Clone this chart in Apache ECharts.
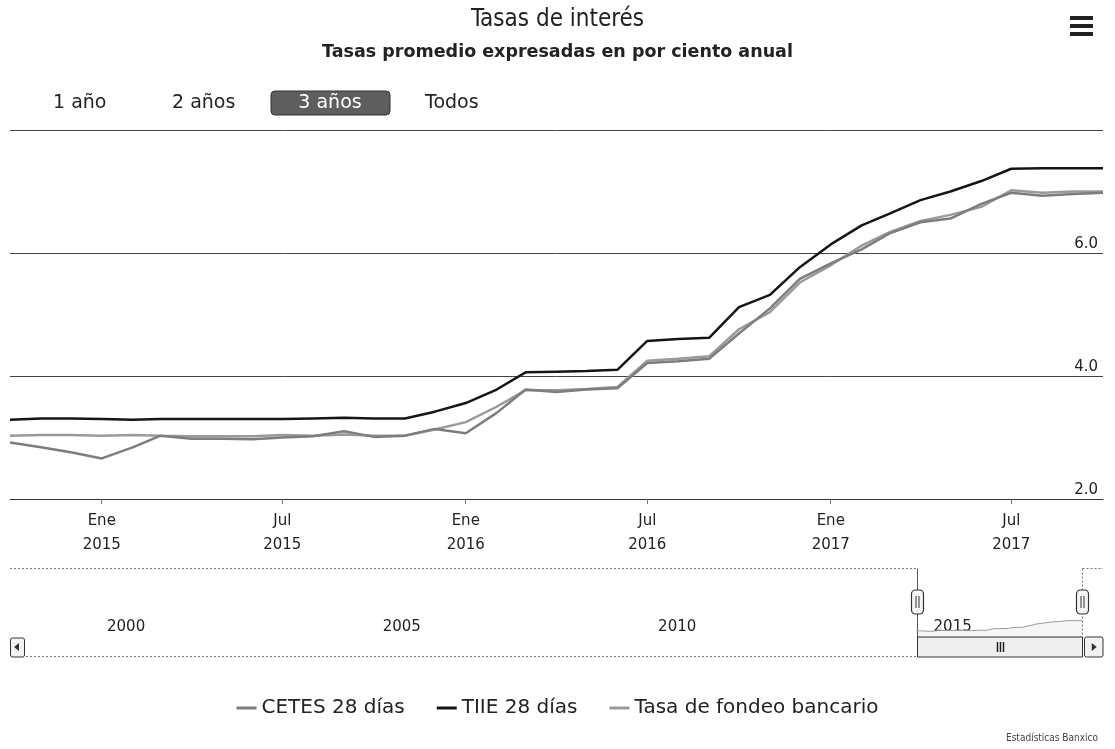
<!DOCTYPE html>
<html>
<head>
<meta charset="utf-8">
<title>Tasas de interés</title>
<script src="https://cdn.jsdelivr.net/npm/echarts@6/dist/echarts.min.js"></script>
<style>
  html, body { margin: 0; padding: 0; background: #fff; }
  #chart { width: 1115px; height: 749px; }
</style>
</head>
<body>
<div id="chart"></div>
<script>
  // promedios mensuales, oct 2014 - oct 2017
  var meses = ['2014-10-01', '2014-11-01', '2014-12-01',
    '2015-01-01', '2015-02-01', '2015-03-01', '2015-04-01', '2015-05-01', '2015-06-01',
    '2015-07-01', '2015-08-01', '2015-09-01', '2015-10-01', '2015-11-01', '2015-12-01',
    '2016-01-01', '2016-02-01', '2016-03-01', '2016-04-01', '2016-05-01', '2016-06-01',
    '2016-07-01', '2016-08-01', '2016-09-01', '2016-10-01', '2016-11-01', '2016-12-01',
    '2017-01-01', '2017-02-01', '2017-03-01', '2017-04-01', '2017-05-01', '2017-06-01',
    '2017-07-01', '2017-08-01', '2017-09-01', '2017-10-01'];
  var cetes28 = [2.92, 2.84, 2.76, 2.66, 2.84, 3.03, 2.98, 2.98, 2.97, 3.00, 3.02, 3.10, 3.01,
    3.03, 3.14, 3.07, 3.40, 3.78, 3.74, 3.78, 3.80, 4.21, 4.24, 4.28, 4.69, 5.10, 5.58, 5.83,
    6.06, 6.32, 6.50, 6.56, 6.80, 6.98, 6.93, 6.96, 6.98];
  var tiie28 = [3.29, 3.31, 3.31, 3.30, 3.29, 3.30, 3.30, 3.30, 3.30, 3.30, 3.31, 3.32, 3.31,
    3.31, 3.42, 3.56, 3.78, 4.06, 4.07, 4.08, 4.10, 4.57, 4.60, 4.62, 5.12, 5.32, 5.77, 6.14,
    6.45, 6.64, 6.86, 7.00, 7.17, 7.37, 7.38, 7.38, 7.38];
  var fondeo = [3.03, 3.04, 3.04, 3.03, 3.04, 3.03, 3.02, 3.02, 3.02, 3.04, 3.03, 3.05, 3.03,
    3.03, 3.13, 3.25, 3.50, 3.77, 3.77, 3.79, 3.82, 4.25, 4.28, 4.32, 4.76, 5.04, 5.52, 5.80,
    6.12, 6.34, 6.52, 6.62, 6.75, 7.02, 6.98, 7.00, 7.00];

  var nombres = ['CETES 28 días', 'TIIE 28 días', 'Tasa de fondeo bancario'];
  var ticksFecha = ['2015-01-01', '2015-07-01', '2016-01-01', '2016-07-01', '2017-01-01', '2017-07-01'];
  var ticksNavegador = ['2000-01-01', '2005-01-01', '2010-01-01', '2015-01-01'];
  var nombreMes = {0: 'Ene', 6: 'Jul'};
  var botones = ['1 año', '2 años', '3 años', 'Todos'];

  var FONT = '"DejaVu Sans", sans-serif';
  var FONT_C = '"DejaVu Sans Condensed", "DejaVu Sans", sans-serif';

  function ts(s) {
    var p = s.split('-');
    return Date.UTC(+p[0], +p[1] - 1, +p[2]);
  }
  function pares(vals) {
    return meses.map(function (m, i) { return [ts(m), vals[i]]; });
  }

  var chart = echarts.init(document.getElementById('chart'));

  var option = {
    animation: false,
    color: ['#7d7d7d', '#151515', '#9a9a9a'],
    title: [{
      text: 'Tasas de interés',
      left: 'center', top: 3,
      textStyle: {fontFamily: FONT_C, fontSize: 24, fontWeight: 'normal', color: '#222'}
    }, {
      text: 'Tasas promedio expresadas en por ciento anual',
      left: 'center', top: 38,
      textStyle: {fontFamily: FONT, fontSize: 17.5, fontWeight: 'bold', color: '#222'}
    }],
    legend: {
      data: nombres,
      left: 'center', top: 693,
      icon: 'rect', itemWidth: 20, itemHeight: 3, itemGap: 32,
      textStyle: {fontFamily: FONT, fontSize: 20, color: '#222'}
    },
    grid: [
      {left: 10, right: 12, top: 130, height: 369},
      {left: 28, right: 33, top: 568, height: 70}
    ],
    xAxis: [{
      type: 'value',
      gridIndex: 0,
      min: ts('2014-10-01'), max: ts('2017-10-01'),
      axisLine: {lineStyle: {color: '#333', width: 1}},
      axisTick: {show: true, length: 5, lineStyle: {color: '#777'},
        customValues: ticksFecha.map(ts)},
      axisLabel: {
        customValues: ticksFecha.map(ts),
        fontFamily: FONT, fontSize: 15, color: '#222', lineHeight: 24, margin: 10,
        formatter: function (v) {
          var d = new Date(v);
          return nombreMes[d.getUTCMonth()] + '\n' + d.getUTCFullYear();
        }
      },
      splitLine: {show: false}
    }, {
      type: 'value',
      gridIndex: 1,
      min: ts('1998-08-15'), max: ts('2017-10-01'),
      axisLine: {show: false},
      axisTick: {show: false},
      splitLine: {show: false},
      axisLabel: {
        customValues: ticksNavegador.map(ts),
        inside: true, margin: 3, align: 'left', padding: [0, 0, 0, 3],
        fontFamily: FONT, fontSize: 15, color: '#222',
        formatter: function (v) { return String(new Date(v).getUTCFullYear()); }
      }
    }],
    yAxis: [{
      type: 'value',
      gridIndex: 0,
      position: 'right',
      min: 2, max: 8, interval: 2,
      axisLine: {show: false},
      axisTick: {show: false},
      splitLine: {lineStyle: {color: '#444', width: 1}},
      axisLabel: {
        inside: true, margin: 5, verticalAlign: 'bottom', padding: [0, 0, 1, 0],
        showMaxLabel: false,
        fontFamily: FONT, fontSize: 15, color: '#222',
        formatter: function (v) { return v.toFixed(1); }
      }
    }, {
      type: 'value',
      gridIndex: 1,
      min: 0, max: 28,
      show: false
    }],
    series: [{
      name: nombres[0], type: 'line', data: pares(cetes28),
      showSymbol: false, lineStyle: {width: 2.5}, z: 3
    }, {
      name: nombres[1], type: 'line', data: pares(tiie28),
      showSymbol: false, lineStyle: {width: 2.5}, z: 4
    }, {
      name: nombres[2], type: 'line', data: pares(fondeo),
      showSymbol: false, lineStyle: {width: 2.5}, z: 2
    }, {
      // serie del navegador
      name: 'nav', type: 'line', data: pares(cetes28),
      xAxisIndex: 1, yAxisIndex: 1,
      showSymbol: false, silent: true,
      lineStyle: {width: 1, color: '#999'},
      areaStyle: {color: 'rgba(0,0,0,0.05)'}
    }]
  };

  chart.setOption(option);

  // botones de rango, menú, navegador y créditos
  var g = [];
  var xBoton = [53, 172, 271, 425];
  botones.forEach(function (b, i) {
    if (i === 2) {
      g.push({type: 'rect', shape: {x: 271, y: 91, width: 119, height: 24, r: 4},
        style: {fill: '#5e5e5e', stroke: '#333'}});
      g.push({type: 'text', x: 330, y: 103,
        style: {text: b, font: '19px ' + FONT, fill: '#fff', align: 'center', verticalAlign: 'middle'}});
    } else {
      g.push({type: 'text', x: xBoton[i], y: 103,
        style: {text: b, font: '19px ' + FONT, fill: '#222', verticalAlign: 'middle'}});
    }
  });
  [16, 24, 32].forEach(function (y) {
    g.push({type: 'rect', shape: {x: 1070, y: y, width: 23, height: 4}, style: {fill: '#222'}});
  });

  var xL = Math.round(chart.convertToPixel({xAxisIndex: 1}, ts(meses[0]))) + 0.5;
  var xR = Math.round(chart.convertToPixel({xAxisIndex: 1}, ts(meses[meses.length - 1]))) + 0.5;
  var navTop = 568.5, navBot = 637, sbBot = 657;
  var linea = {stroke: '#777', lineWidth: 1, lineDash: [2, 2]};

  g.push({type: 'line', shape: {x1: 10, y1: navTop, x2: xL, y2: navTop}, style: linea});
  g.push({type: 'line', shape: {x1: xR, y1: navTop, x2: 1103, y2: navTop}, style: linea});
  g.push({type: 'line', shape: {x1: 26, y1: sbBot - 0.5, x2: xL, y2: sbBot - 0.5}, style: linea});
  g.push({type: 'line', shape: {x1: xL, y1: navTop, x2: xL, y2: navBot}, style: {stroke: '#555', lineWidth: 1}});
  g.push({type: 'line', shape: {x1: xR, y1: navTop, x2: xR, y2: navBot}, style: linea});

  // barra de desplazamiento
  g.push({type: 'rect', shape: {x: xL, y: navBot, width: xR - xL, height: sbBot - navBot},
    style: {fill: '#efefef', stroke: '#333', lineWidth: 1}});
  var cx = Math.round((xL + xR) / 2);
  [-3, 0, 3].forEach(function (d) {
    g.push({type: 'line', shape: {x1: cx + d + 0.5, y1: navBot + 5, x2: cx + d + 0.5, y2: sbBot - 5},
      style: {stroke: '#222', lineWidth: 1.5}});
  });
  g.push({type: 'rect', shape: {x: 10.5, y: navBot + 1, width: 14, height: sbBot - navBot - 1, r: 2},
    style: {fill: '#f2f2f2', stroke: '#333', lineWidth: 1}});
  g.push({type: 'polygon', shape: {points: [[14, 647], [19, 643], [19, 651]]}, style: {fill: '#333'}});
  g.push({type: 'rect', shape: {x: xR + 2, y: navBot, width: 1103 - xR - 2, height: sbBot - navBot, r: 2},
    style: {fill: '#f2f2f2', stroke: '#333', lineWidth: 1}});
  var ax = (xR + 2 + 1103) / 2;
  g.push({type: 'polygon', shape: {points: [[ax + 3, 647], [ax - 2, 643], [ax - 2, 651]]}, style: {fill: '#333'}});

  // manijas
  [xL, xR].forEach(function (x) {
    g.push({type: 'rect', shape: {x: x - 6, y: 590, width: 12, height: 24, r: 4},
      style: {fill: '#f5f5f5', stroke: '#333', lineWidth: 1.2}});
    g.push({type: 'line', shape: {x1: x - 1.5, y1: 596, x2: x - 1.5, y2: 608}, style: {stroke: '#333'}});
    g.push({type: 'line', shape: {x1: x + 1.5, y1: 596, x2: x + 1.5, y2: 608}, style: {stroke: '#333'}});
  });

  g.push({type: 'text', right: 17, top: 733,
    style: {text: 'Estadísticas Banxico', font: '10px ' + FONT_C, fill: '#444'}});

  chart.setOption({graphic: g});
</script>
</body>
</html>
